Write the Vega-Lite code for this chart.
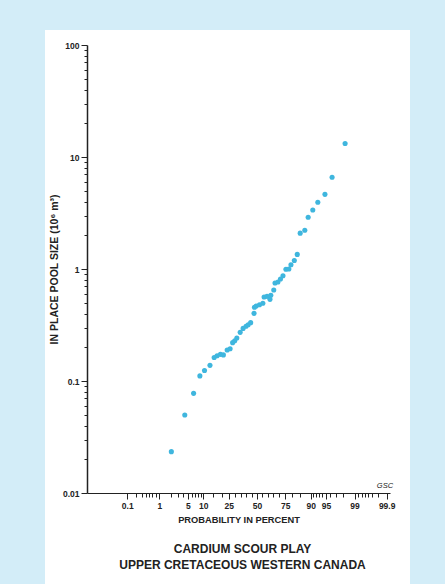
{
  "$schema": "https://vega.github.io/schema/vega-lite/v6.json",
  "width": 365,
  "height": 554,
  "autosize": {"type": "none"},
  "padding": {"left": 45, "top": 30, "right": 35, "bottom": 0},
  "background": "#d3edf8",
  "config": {
    "view": {"fill": "white", "stroke": null},
    "axis": {
      "labelFont": "Liberation Sans",
      "labelFontWeight": "bold",
      "labelColor": "#222222",
      "titleFont": "Liberation Sans",
      "titleFontWeight": "bold",
      "titleColor": "#222222",
      "domainColor": "#222222",
      "tickColor": "#222222",
      "grid": false
    }
  },
  "title": {
    "text": ["CARDIUM SCOUR PLAY", "UPPER CRETACEOUS WESTERN CANADA"],
    "orient": "bottom",
    "anchor": "middle",
    "frame": "group",
    "offset": -40,
    "dx": 15,
    "font": "Liberation Sans",
    "fontSize": 12,
    "fontWeight": "bold",
    "color": "#222222",
    "lineHeight": 16
  },
  "layer": [
    {
      "data": {
        "values": [
          {"z_score": -2.04, "pool_size": 0.0234},
          {"z_score": -1.72, "pool_size": 0.0497},
          {"z_score": -1.51, "pool_size": 0.0776},
          {"z_score": -1.36, "pool_size": 0.111},
          {"z_score": -1.25, "pool_size": 0.124},
          {"z_score": -1.12, "pool_size": 0.138},
          {"z_score": -1.02, "pool_size": 0.162},
          {"z_score": -0.95, "pool_size": 0.168},
          {"z_score": -0.87, "pool_size": 0.173},
          {"z_score": -0.80, "pool_size": 0.171},
          {"z_score": -0.71, "pool_size": 0.189},
          {"z_score": -0.64, "pool_size": 0.194},
          {"z_score": -0.58, "pool_size": 0.220},
          {"z_score": -0.53, "pool_size": 0.229},
          {"z_score": -0.48, "pool_size": 0.242},
          {"z_score": -0.40, "pool_size": 0.272},
          {"z_score": -0.33, "pool_size": 0.295},
          {"z_score": -0.26, "pool_size": 0.308},
          {"z_score": -0.21, "pool_size": 0.318},
          {"z_score": -0.15, "pool_size": 0.332},
          {"z_score": -0.07, "pool_size": 0.402},
          {"z_score": -0.06, "pool_size": 0.456},
          {"z_score": -0.02, "pool_size": 0.468},
          {"z_score": 0.06, "pool_size": 0.480},
          {"z_score": 0.14, "pool_size": 0.494},
          {"z_score": 0.17, "pool_size": 0.562},
          {"z_score": 0.24, "pool_size": 0.570},
          {"z_score": 0.31, "pool_size": 0.536},
          {"z_score": 0.33, "pool_size": 0.582},
          {"z_score": 0.40, "pool_size": 0.649},
          {"z_score": 0.43, "pool_size": 0.750},
          {"z_score": 0.50, "pool_size": 0.766},
          {"z_score": 0.56, "pool_size": 0.815},
          {"z_score": 0.62, "pool_size": 0.871},
          {"z_score": 0.69, "pool_size": 0.994},
          {"z_score": 0.76, "pool_size": 1.00},
          {"z_score": 0.81, "pool_size": 1.09},
          {"z_score": 0.89, "pool_size": 1.19},
          {"z_score": 0.96, "pool_size": 1.35},
          {"z_score": 1.03, "pool_size": 2.09},
          {"z_score": 1.14, "pool_size": 2.22},
          {"z_score": 1.22, "pool_size": 2.90},
          {"z_score": 1.33, "pool_size": 3.36},
          {"z_score": 1.45, "pool_size": 3.95},
          {"z_score": 1.62, "pool_size": 4.64},
          {"z_score": 1.79, "pool_size": 6.59},
          {"z_score": 2.10, "pool_size": 13.2}
        ]
      },
      "mark": {"type": "circle", "size": 26, "opacity": 1, "color": "#3fb6de"},
      "encoding": {
        "x": {
          "field": "z_score",
          "type": "quantitative",
          "scale": {"domain": [-4.05, 3.17], "range": [42, 345], "nice": false, "zero": false},
          "axis": {
            "title": "PROBABILITY IN PERCENT",
            "titleFontSize": 9.3,
            "titlePadding": 6,
            "offset": -91,
            "domainWidth": 1.2,
            "labelFontSize": 8.5,
            "labelPadding": 2,
            "labelOverlap": false,
            "labelFlush": false,
            "tickCount": 200,
            "values": [-3.0902, -2.8782, -2.7478, -2.6521, -2.5758, -2.5121, -2.4089, -2.3263, -2.0537, -1.8808, -1.7507, -1.6449, -1.5548, -1.4758, -1.4051, -1.3408, -1.2816, -1.0364, -0.8416, -0.6745, -0.5244, -0.3853, -0.2533, -0.1257, 0, 0.1257, 0.2533, 0.3853, 0.5244, 0.6745, 0.8416, 1.0364, 1.2816, 1.3408, 1.4051, 1.4758, 1.5548, 1.6449, 1.7507, 1.8808, 2.0537, 2.3263, 2.4089, 2.5121, 2.5758, 2.6521, 2.7478, 2.8782, 3.0902],
            "labelExpr": "indexof(['0.1','1','5','10','25','50','75','90','95','99','99.9'], format(cumulativeNormal(datum.value)*100, '.3~g')) >= 0 ? format(cumulativeNormal(datum.value)*100, '.3~g') : ''",
            "tickSize": {"condition": {"test": "indexof(['0.1','1','5','10','25','50','75','90','95','99','99.9'], format(cumulativeNormal(datum.value)*100, '.3~g')) >= 0", "value": 6}, "value": 4},
            "tickWidth": 1
          }
        },
        "y": {
          "field": "pool_size",
          "type": "quantitative",
          "scale": {"type": "log", "domain": [0.01, 100], "range": [463, 15], "nice": false},
          "axis": {
            "title": "IN PLACE POOL SIZE (10⁶ m³)",
            "titleFontSize": 10.5,
            "titlePadding": 3,
            "offset": -42,
            "domainWidth": 1.5,
            "labelFontSize": 8.5,
            "labelPadding": 2,
            "labelOverlap": false,
            "labelFlush": false,
            "tickCount": 200,
            "values": [0.01, 0.02, 0.03, 0.04, 0.05, 0.06, 0.07, 0.08, 0.09, 0.1, 0.2, 0.3, 0.4, 0.5, 0.6, 0.7, 0.8, 0.9, 1, 2, 3, 4, 5, 6, 7, 8, 9, 10, 20, 30, 40, 50, 60, 70, 80, 90, 100],
            "labelExpr": "abs(log(datum.value)/LN10 - round(log(datum.value)/LN10)) < 0.000001 ? format(datum.value, '~g') : ''",
            "tickSize": {"condition": {"test": "abs(log(datum.value)/LN10 - round(log(datum.value)/LN10)) < 0.000001", "value": 6}, "value": 3},
            "tickWidth": 1
          }
        }
      }
    },
    {
      "data": {"values": [{"note": "GSC", "z_pos": 3.05, "size_pos": 0.01}]},
      "mark": {"type": "text", "font": "Liberation Sans", "fontSize": 7.5, "fontStyle": "italic", "color": "#222222", "dy": -7},
      "encoding": {
        "x": {"field": "z_pos", "type": "quantitative"},
        "y": {"field": "size_pos", "type": "quantitative"},
        "text": {"field": "note"}
      }
    }
  ]
}
